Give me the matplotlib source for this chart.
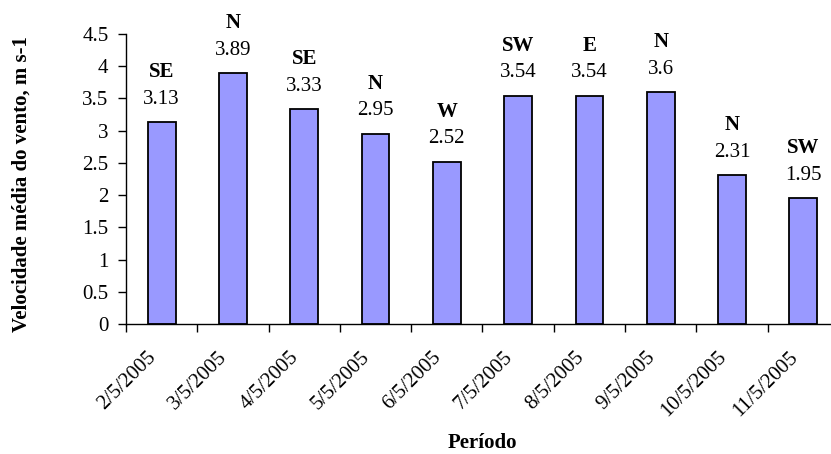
import matplotlib.pyplot as plt
import matplotlib.transforms as mtransforms
import numpy as np

plt.rcParams['font.family'] = ['Liberation Serif', 'DejaVu Serif']

# mean wind speed per day and prevailing direction
datas = ['2/5/2005', '3/5/2005', '4/5/2005', '5/5/2005', '6/5/2005',
         '7/5/2005', '8/5/2005', '9/5/2005', '10/5/2005', '11/5/2005']
velocidade = [3.13, 3.89, 3.33, 2.95, 2.52, 3.54, 3.54, 3.6, 2.31, 1.95]
direcao = ['SE', 'N', 'SE', 'N', 'W', 'SW', 'E', 'N', 'N', 'SW']

fig = plt.figure(figsize=(8.31, 4.54), dpi=100)
ax = fig.add_axes([0.1516, 0.2863, 0.858, 0.639])

x = np.arange(len(datas))
ax.bar(x, velocidade, width=0.39, color='#9999FF', edgecolor='black', linewidth=1.3)

for xi, v, d in zip(x, velocidade, direcao):
    ax.annotate(f'{v:g}', (xi, v), xytext=(0, 16.5), textcoords='offset points',
                ha='center', va='center', fontsize=15)
    ax.annotate(d, (xi, v), xytext=(0, 36), textcoords='offset points',
                ha='center', va='center', fontsize=15, fontweight='bold')

ax.set_xlim(-0.5, len(datas) - 0.5)
ax.set_ylim(0, 4.5)
yt = np.arange(0, 4.6, 0.5)
ax.set_yticks(yt)
ax.set_yticklabels([f'{t:g}' for t in yt], fontsize=15)

# labels at the bar centres, tick marks between categories
ax.set_xticks(x)
ax.set_xticklabels(datas, rotation=45, ha='right', rotation_mode='anchor', fontsize=15)
ax.tick_params(axis='x', which='major', length=0, pad=17)
shift = mtransforms.ScaledTranslation(-0.15, 0, fig.dpi_scale_trans)
for lbl in ax.get_xticklabels():
    lbl.set_transform(lbl.get_transform() + shift)
ax.set_xticks(np.arange(-0.5, len(datas), 1), minor=True)
ax.tick_params(axis='x', which='minor', length=5.5, width=1, direction='out')
ax.tick_params(axis='y', length=5.5, width=1, direction='out', pad=7)

for s in ['top', 'right']:
    ax.spines[s].set_visible(False)
ax.spines['left'].set_linewidth(1)
ax.spines['bottom'].set_linewidth(1)

fig.text(22 / 831, 1 - 184 / 454, 'Velocidade média do vento, m s-1', rotation=90,
         ha='center', va='center', fontsize=15, fontweight='bold')
fig.text(482 / 831, 1 - 443 / 454, 'Período', ha='center', va='center',
         fontsize=15, fontweight='bold')

fig.savefig('out.png', dpi=100)
